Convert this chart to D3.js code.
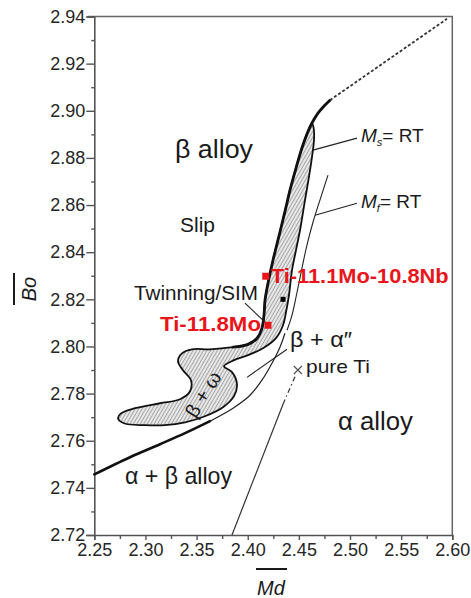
<!DOCTYPE html>
<html>
<head>
<meta charset="utf-8">
<script src="https://cdn.jsdelivr.net/npm/d3@7"></script>
<style>
  html, body { margin: 0; padding: 0; background: #fff; }
  svg { display: block; font-family: "Liberation Sans", Arial, Helvetica, sans-serif; }
</style>
</head>
<body>
<div id="chart"></div>
<script>
// tick labels
var xTicks = [2.25, 2.30, 2.35, 2.40, 2.45, 2.50, 2.55, 2.60];
var xMinor = [2.275, 2.325, 2.375, 2.425, 2.475, 2.525, 2.575];
var yTicks = [2.72, 2.74, 2.76, 2.78, 2.80, 2.82, 2.84, 2.86, 2.88, 2.90, 2.92, 2.94];
var yMinor = [2.73, 2.75, 2.77, 2.79, 2.81, 2.83, 2.85, 2.87, 2.89, 2.91, 2.93];

// [Md, Bo] boundary traces
var betaBoundary = [[2.4804, 2.9045], [2.4746, 2.9020], [2.4687, 2.8990], [2.4628, 2.8948],
  [2.4579, 2.8901], [2.4530, 2.8842], [2.4472, 2.8757], [2.4413, 2.8663], [2.4374, 2.8591],
  [2.4315, 2.8485], [2.4247, 2.8366], [2.4198, 2.8268], [2.4169, 2.8196], [2.4159, 2.8133],
  [2.4139, 2.8077]];
var omegaLobe = [[2.4091, 2.8035], [2.4003, 2.8009], [2.3856, 2.7997], [2.3631, 2.7988],
  [2.3455, 2.7988], [2.3357, 2.7971], [2.3318, 2.7937], [2.3367, 2.7899], [2.3445, 2.7857],
  [2.3436, 2.7810], [2.3338, 2.7776], [2.3142, 2.7759], [2.2898, 2.7738], [2.2761, 2.7716],
  [2.2732, 2.7695], [2.2790, 2.7674], [2.2996, 2.7666], [2.3191, 2.7666], [2.3387, 2.7678],
  [2.3582, 2.7704], [2.3758, 2.7742], [2.3866, 2.7789], [2.3895, 2.7840], [2.3846, 2.7891],
  [2.3768, 2.7916], [2.3866, 2.7942], [2.4003, 2.7963], [2.4149, 2.7992], [2.4276, 2.8035]];
var msLine = [[2.4345, 2.8090], [2.4374, 2.8145], [2.4403, 2.8217], [2.4433, 2.8324],
  [2.4472, 2.8409], [2.4511, 2.8493], [2.4560, 2.8621], [2.4609, 2.8748], [2.4648, 2.8876],
  [2.4645, 2.8925]];
var mfLine = [[2.4785, 2.8727], [2.4706, 2.8621], [2.4638, 2.8527], [2.4579, 2.8430],
  [2.4530, 2.8332], [2.4482, 2.8230], [2.4433, 2.8133], [2.4384, 2.8069]];
var alphaBetaThick = [[2.25, 2.7457], [2.2849, 2.7530], [2.3142, 2.7585], [2.3387, 2.7632],
  [2.3631, 2.7683]];
var alphaBetaThin = [[2.3631, 2.7683], [2.3856, 2.7738], [2.4022, 2.7793], [2.4139, 2.7857],
  [2.4237, 2.7929], [2.4315, 2.7997], [2.4364, 2.8056]];
var extension = [[2.4804, 2.9045], [2.5948, 2.939]];
var pureTiSolid = [[2.3846, 2.72], [2.4345, 2.7755]];
var pureTiDash = [[2.4345, 2.7755], [2.4472, 2.7882]];

// markers
var pureTi = [2.449, 2.790];
var alloys = [
  { name: "Ti-11.1Mo-10.8Nb", md: 2.4176, bo: 2.8298 },
  { name: "Ti-11.8Mo", md: 2.4198, bo: 2.8090 }
];
var blackPoint = [2.4345, 2.820];

var W = 471, H = 598;
var svg = d3.select('#chart').append('svg').attr('width', W).attr('height', H);

var x = d3.scaleLinear().domain([2.25, 2.60]).range([94.3, 452.3]);
var y = d3.scaleLinear().domain([2.72, 2.94]).range([535, 16.5]);

var pat = svg.append('defs').append('pattern')
  .attr('id', 'hatch').attr('patternUnits', 'userSpaceOnUse')
  .attr('width', 3).attr('height', 3).attr('patternTransform', 'rotate(30)');
pat.append('rect').attr('width', 3).attr('height', 3).attr('fill', '#e8e8e8');
pat.append('line').attr('x1', 0.5).attr('y1', 0).attr('x2', 0.5).attr('y2', 3)
  .attr('stroke', '#959595').attr('stroke-width', 0.8);

var line = d3.line().x(function(d) { return x(d[0]); }).y(function(d) { return y(d[1]); })
  .curve(d3.curveCatmullRom.alpha(0.5));
var closedLine = d3.line().x(function(d) { return x(d[0]); }).y(function(d) { return y(d[1]); })
  .curve(d3.curveCatmullRomClosed.alpha(0.5));

// frame
svg.append('path')
  .attr('d', 'M' + (x(2.25) - 6) + ',' + y(2.94) + 'H' + x(2.60) + 'V' + y(2.72))
  .attr('fill', 'none').attr('stroke', '#666').attr('stroke-width', 1.5);

// axes
function styleAxis(g) {
  g.select('.domain').attr('stroke', '#555').attr('stroke-width', 1.6);
  g.selectAll('.tick line').attr('stroke', '#555').attr('stroke-width', 1.4);
  g.selectAll('.tick text').attr('font-size', 18).attr('fill', '#262626')
    .attr('font-family', '"Liberation Sans", Arial, sans-serif');
}
svg.append('g').attr('transform', 'translate(0,' + y(2.72) + ')')
  .call(d3.axisBottom(x).tickValues(xMinor).tickFormat('').tickSize(4))
  .call(styleAxis).select('.domain').remove();
svg.append('g').attr('transform', 'translate(' + x(2.25) + ',0)')
  .call(d3.axisLeft(y).tickValues(yMinor).tickFormat('').tickSize(3))
  .call(styleAxis).select('.domain').remove();
svg.append('g').attr('transform', 'translate(0,' + y(2.72) + ')')
  .call(d3.axisBottom(x).tickValues(xTicks).tickFormat(d3.format('.2f')).tickSize(5).tickPadding(3))
  .call(styleAxis);
svg.append('g').attr('transform', 'translate(' + x(2.25) + ',0)')
  .call(d3.axisLeft(y).tickValues(yTicks).tickFormat(d3.format('.2f')).tickSize(8).tickPadding(1))
  .call(styleAxis);

// hatched β+ω / martensite region
var region = betaBoundary.slice(3).concat(omegaLobe, msLine);
svg.append('path').attr('d', closedLine(region))
  .attr('fill', 'url(#hatch)').attr('stroke', '#111').attr('stroke-width', 1.8)
  .attr('stroke-linejoin', 'round');
svg.append('path').attr('d', line(betaBoundary.concat(omegaLobe.slice(0, 3))))
  .attr('fill', 'none').attr('stroke', '#111').attr('stroke-width', 2.8).attr('stroke-linecap', 'round');

svg.append('path').attr('d', line(extension)).attr('fill', 'none')
  .attr('stroke', '#333').attr('stroke-width', 1.8).attr('stroke-dasharray', '3,2');
svg.append('path').attr('d', line(mfLine)).attr('fill', 'none')
  .attr('stroke', '#222').attr('stroke-width', 1.1);
svg.append('path').attr('d', line(alphaBetaThick)).attr('fill', 'none')
  .attr('stroke', '#111').attr('stroke-width', 2.6).attr('stroke-linecap', 'round');
svg.append('path').attr('d', line(alphaBetaThin)).attr('fill', 'none')
  .attr('stroke', '#222').attr('stroke-width', 1.2);
svg.append('path').attr('d', line(pureTiSolid)).attr('fill', 'none')
  .attr('stroke', '#333').attr('stroke-width', 1.2);
svg.append('path').attr('d', line(pureTiDash)).attr('fill', 'none')
  .attr('stroke', '#333').attr('stroke-width', 1.2).attr('stroke-dasharray', '5,3,1.5,3');

// leader lines
var leaders = [
  [[2.4638, 2.8833], [2.5068, 2.8884]],
  [[2.4658, 2.8557], [2.5068, 2.8608]],
  [[2.3993, 2.7869], [2.4384, 2.7988]],
  [[2.3973, 2.8184], [2.4169, 2.8103]]
];
leaders.forEach(function(l) {
  svg.append('path').attr('d', line(l)).attr('fill', 'none')
    .attr('stroke', '#222').attr('stroke-width', 1.1);
});

// markers
var px = x(pureTi[0]), py = y(pureTi[1]);
svg.append('path').attr('d', 'M' + (px - 4) + ',' + (py - 4) + 'L' + (px + 4) + ',' + (py + 4) +
  'M' + (px + 4) + ',' + (py - 4) + 'L' + (px - 4) + ',' + (py + 4))
  .attr('stroke', '#555').attr('stroke-width', 1.2);
svg.append('rect').attr('x', x(blackPoint[0]) - 2.5).attr('y', y(blackPoint[1]) - 2.5)
  .attr('width', 5).attr('height', 5).attr('fill', '#000');
svg.selectAll('rect.alloy').data(alloys).enter().append('rect').attr('class', 'alloy')
  .attr('x', function(d) { return x(d.md) - 3.5; })
  .attr('y', function(d) { return y(d.bo) - 3.5; })
  .attr('width', 7).attr('height', 7).attr('fill', '#e8161b');

// text
function label(t, lx, ly, size, len, extra) {
  var el = svg.append('text').attr('x', lx).attr('y', ly).attr('font-size', size)
    .attr('fill', '#1a1a1a').text(t);
  if (len) el.attr('textLength', len).attr('lengthAdjust', 'spacingAndGlyphs');
  if (extra) extra(el);
  return el;
}
label('β alloy', 175, 158, 25, 78);
label('Slip', 180, 232, 20, 35);
label('Twinning/SIM', 134, 300, 20, 124);
label('β + α\u2033', 290, 347, 22, 62);
label('pure Ti', 306, 373, 19, 64);
label('α alloy', 338, 430, 25, 75);
label('α + β alloy', 125, 484, 24, 107);
label('β + ω', 0, 0, 20, null, function(el) {
  el.attr('text-anchor', 'middle').attr('transform', 'translate(209,398) rotate(-58)');
});
label(alloys[0].name, x(alloys[0].md) + 5, y(alloys[0].bo) + 7, 20, 178, function(el) {
  el.attr('fill', '#e8161b').attr('font-weight', 'bold');
});
label(alloys[1].name, 160, y(alloys[1].bo) + 6, 21, 101, function(el) {
  el.attr('fill', '#e8161b').attr('font-weight', 'bold');
});

function mLabel(sub, ly) {
  var t = svg.append('text').attr('x', 361).attr('y', ly).attr('font-size', 19).attr('fill', '#1a1a1a');
  t.append('tspan').attr('font-style', 'italic').text('M');
  t.append('tspan').attr('font-style', 'italic').attr('font-size', 11).attr('dy', 4).text(sub);
  t.append('tspan').attr('dy', -4).text('= RT');
}
mLabel('s', 142);
mLabel('f', 208);

// axis titles with overbars
svg.append('text').attr('x', 271).attr('y', 595).attr('text-anchor', 'middle')
  .attr('font-size', 20).attr('font-style', 'italic').attr('fill', '#1a1a1a').text('Md');
svg.append('line').attr('x1', 256).attr('x2', 287).attr('y1', 569).attr('y2', 569)
  .attr('stroke', '#1a1a1a').attr('stroke-width', 2);
svg.append('text').attr('transform', 'translate(36,289) rotate(-90)').attr('text-anchor', 'middle')
  .attr('font-size', 20).attr('font-style', 'italic').attr('fill', '#1a1a1a').text('Bo');
svg.append('line').attr('x1', 14).attr('x2', 14).attr('y1', 273).attr('y2', 305)
  .attr('stroke', '#1a1a1a').attr('stroke-width', 2);
</script>
</body>
</html>
